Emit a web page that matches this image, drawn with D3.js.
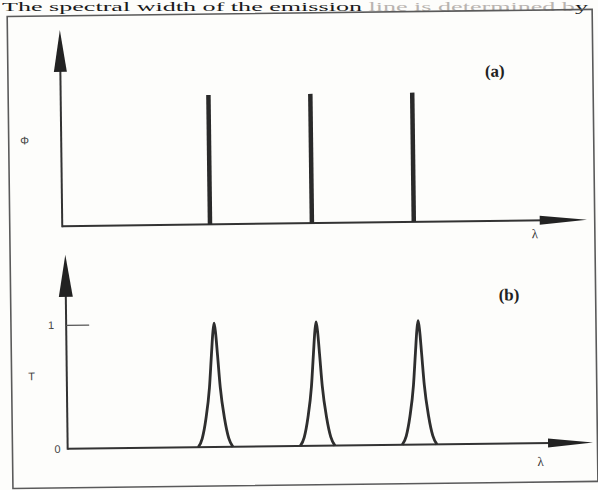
<!DOCTYPE html>
<html>
<head>
<meta charset="utf-8">
<script src="https://cdn.jsdelivr.net/npm/d3@7/dist/d3.min.js"></script>
<style>
  html, body { margin: 0; padding: 0; background: #fdfdfb; }
  svg { display: block; }
</style>
</head>
<body>
<script>
// (a) emission lines: wavelength position and flux
const lineLambda = [1, 2, 3];
const lineFlux = [1, 1, 1];

// (b) transmission peaks: centre wavelength and peak transmission
const peakLambda = [1, 2, 3];
const peakT = [1, 1, 1];

// shape of one transmission peak: offset from its centre (λ units) and relative T
const profileOffset = [-0.170, -0.130, -0.092, -0.053, -0.0300, -0.0135, 0, 0.0135, 0.0300, 0.053, 0.092, 0.130, 0.170];
const profileValue  = [0, 0.07, 0.225, 0.48, 0.74, 0.92, 1, 0.92, 0.74, 0.48, 0.225, 0.07, 0];

// tick labels on the T axis
const tTicks = [0, 1];
const tTickLabels = ["0", "1"];

const W = 598, H = 490;
const ink = "#333";

const svg = d3.select("body").append("svg")
  .attr("width", W).attr("height", H);

// caption line running above the figure
const cap = svg.append("text")
  .attr("x", 2).attr("y", 10.5)
  .attr("font-family", "Liberation Serif, serif")
  .attr("font-size", 13.5)
  .attr("textLength", 586).attr("lengthAdjust", "spacingAndGlyphs")
  .attr("fill", "#1a1a1a");
cap.append("tspan").text("The spectral width of the emission");
cap.append("tspan").attr("fill", "#b9b4b0").text(" line is determined b");
cap.append("tspan").attr("fill", "#1a1a1a").text("y");

const g = svg.append("g").attr("transform", "rotate(-0.7, 299, 245)");

// frame
g.append("rect")
  .attr("x", 10).attr("y", 13).attr("width", 585).attr("height", 472)
  .attr("fill", "none").attr("stroke", "#5a5a5a").attr("stroke-width", 1.6);

const lamDomain = [-0.45, 4.7];

function arrowUp(sel, x, tipY, baseY, w) {
  sel.append("path")
    .attr("d", `M${x},${tipY} L${x - w / 2},${baseY} L${x + w / 2},${baseY} Z`)
    .attr("fill", "#222");
}
function arrowRight(sel, y, tipX, baseX, h) {
  sel.append("path")
    .attr("d", `M${tipX},${y} L${baseX},${y - h / 2} L${baseX},${y + h / 2} Z`)
    .attr("fill", "#222");
}

// ---------- panel (a) ----------
const xA = d3.scaleLinear().domain(lamDomain).range([62.5, 587.3]);
const yA = d3.scaleLinear().domain([0, 1]).range([223.3, 94]);
const pa = g.append("g");

pa.append("line")
  .attr("x1", xA.range()[0]).attr("x2", xA.range()[1] - 20)
  .attr("y1", yA(0)).attr("y2", yA(0))
  .attr("stroke", ink).attr("stroke-width", 2);
pa.append("line")
  .attr("x1", xA.range()[0]).attr("x2", xA.range()[0])
  .attr("y1", yA(0) + 1).attr("y2", 45)
  .attr("stroke", ink).attr("stroke-width", 2);
arrowUp(pa, xA.range()[0], 27, 69, 13);
arrowRight(pa, yA(0), xA.range()[1], 540, 9);

pa.selectAll("line.emission")
  .data(lineLambda)
  .join("line")
  .attr("class", "emission")
  .attr("x1", d => xA(d)).attr("x2", d => xA(d))
  .attr("y1", yA(0)).attr("y2", (d, i) => yA(lineFlux[i]))
  .attr("stroke", "#2a2a2a").attr("stroke-width", 4.5);

pa.append("text")
  .attr("x", 487).attr("y", 79)
  .attr("font-family", "Liberation Serif, serif").attr("font-weight", "bold")
  .attr("font-size", 17).attr("fill", "#222")
  .text("(a)");
pa.append("text")
  .attr("x", 535).attr("y", 241).attr("text-anchor", "middle")
  .attr("font-family", "Liberation Serif, serif")
  .attr("font-size", 13).attr("fill", "#333")
  .text("λ");
pa.append("text")
  .attr("x", 26).attr("y", 141).attr("text-anchor", "middle")
  .attr("font-family", "Liberation Sans, sans-serif")
  .attr("font-size", 11).attr("fill", "#444")
  .text("Φ");

// ---------- panel (b) ----------
const xB = d3.scaleLinear().domain(lamDomain).range([65.2, 590.6]);
const yB = d3.scaleLinear().domain([0, 1]).range([446, 322]);
const pb = g.append("g");

pb.append("line")
  .attr("x1", xB.range()[0]).attr("x2", xB.range()[1] - 20)
  .attr("y1", yB(0)).attr("y2", yB(0))
  .attr("stroke", ink).attr("stroke-width", 2);
pb.append("line")
  .attr("x1", xB.range()[0]).attr("x2", xB.range()[0])
  .attr("y1", yB(0) + 1).attr("y2", 270)
  .attr("stroke", ink).attr("stroke-width", 2);
arrowUp(pb, xB.range()[0], 252, 294, 14);
arrowRight(pb, yB(0), xB.range()[1], 545.6, 9);

// T axis: tick at 1 drawn inward, labels 0 and 1
const tAxis = d3.axisLeft(yB)
  .tickValues(tTicks)
  .tickFormat((d, i) => tTickLabels[i])
  .tickSize(-23).tickPadding(12);
const ax = pb.append("g")
  .attr("transform", `translate(${xB.range()[0]},0)`)
  .call(tAxis);
ax.select(".domain").remove();
ax.selectAll(".tick line").attr("stroke", "#555").attr("stroke-width", 1.3)
  .filter(d => d === 0).remove();
ax.selectAll(".tick text")
  .attr("font-family", "Liberation Sans, sans-serif")
  .attr("font-size", 11).attr("fill", "#444")
  .attr("dx", d => d === 0 ? 5 : 0);

const peakLine = d3.line()
  .x(d => d[0]).y(d => d[1])
  .curve(d3.curveMonotoneX);

pb.selectAll("path.peak")
  .data(peakLambda)
  .join("path")
  .attr("class", "peak")
  .attr("d", (c, i) => peakLine(profileOffset.map((o, k) =>
    [xB(c + o), yB(profileValue[k] * peakT[i])])))
  .attr("fill", "none").attr("stroke", "#2e2e2e")
  .attr("stroke-width", 2.8).attr("stroke-linejoin", "round");

pb.append("text")
  .attr("x", 498).attr("y", 303)
  .attr("font-family", "Liberation Serif, serif").attr("font-weight", "bold")
  .attr("font-size", 17).attr("fill", "#222")
  .text("(b)");
pb.append("text")
  .attr("x", 538).attr("y", 469).attr("text-anchor", "middle")
  .attr("font-family", "Liberation Serif, serif")
  .attr("font-size", 13).attr("fill", "#333")
  .text("λ");
pb.append("text")
  .attr("x", 30).attr("y", 377).attr("text-anchor", "middle")
  .attr("font-family", "Liberation Sans, sans-serif")
  .attr("font-size", 11).attr("fill", "#444")
  .text("T");
</script>
</body>
</html>
